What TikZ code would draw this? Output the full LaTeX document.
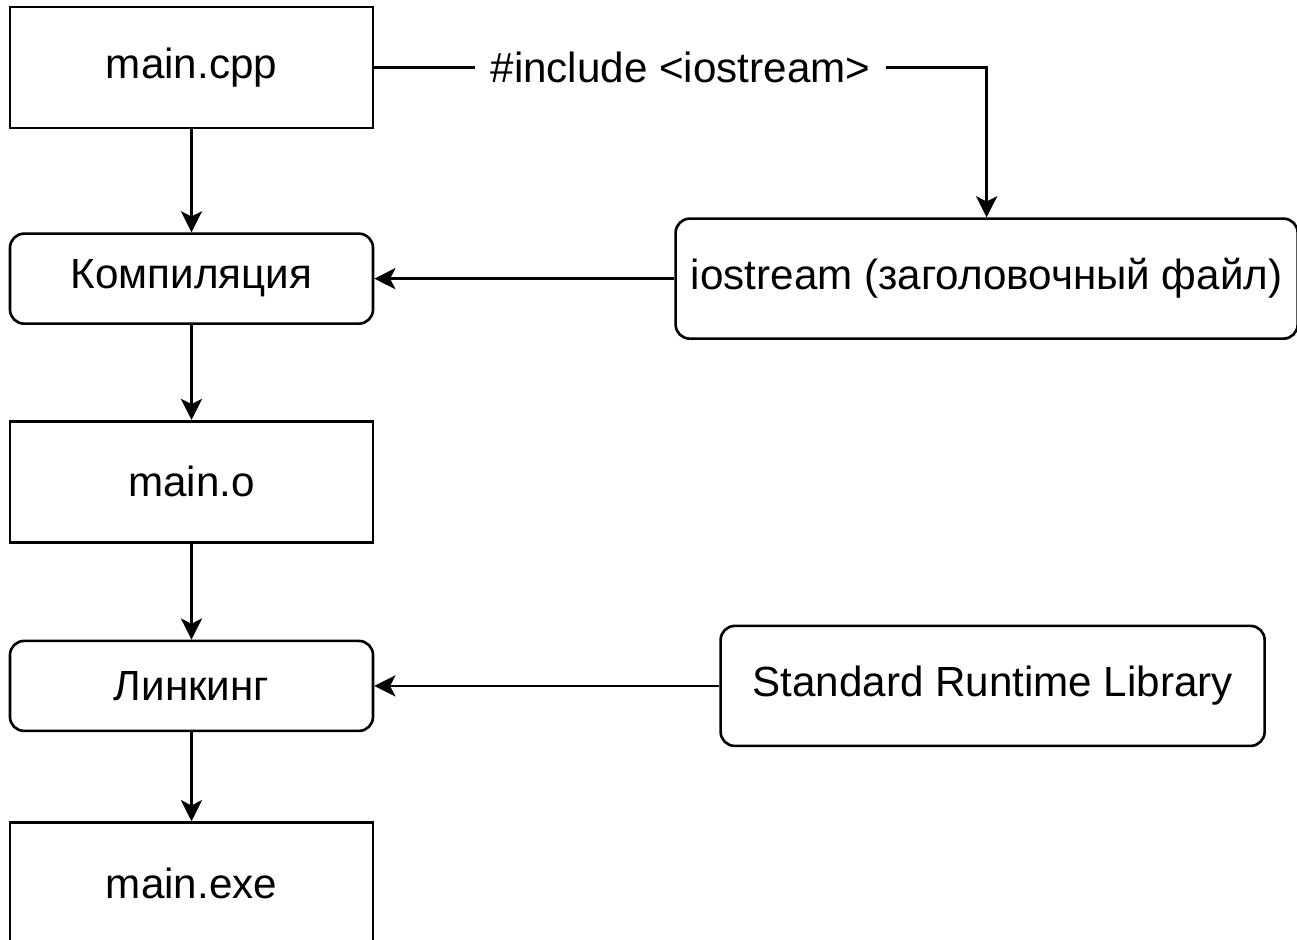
\documentclass[tikz,border=0pt]{standalone}
\usepackage{fontspec}
\setmainfont{Liberation Sans}
\usetikzlibrary{arrows.meta,positioning}

\begin{document}
\begin{tikzpicture}[
  box/.style={draw,line width=1.5pt,align=center,font=\fontsize{24}{28}\selectfont,minimum width=7.26cm,minimum height=2.42cm,inner sep=0pt},
  rbox/.style={box,rounded corners=8pt,minimum height=1.8cm},
  lbox/.style={draw,line width=1.5pt,rounded corners=8pt,align=center,font=\fontsize{24}{28}\selectfont,minimum height=2.4cm,inner sep=0pt},
  arr/.style={-{Stealth[length=12pt,width=12pt,inset=3pt]},line width=1.5pt},
  lbl/.style={fill=white,font=\fontsize{24}{28}\selectfont,inner sep=9pt}
]
\useasboundingbox (0,0) rectangle (25.94,-18.78);
% left column
\node[box] (cpp) at (3.83,-1.35) {main.cpp};
\node[rbox,below=2.06cm of cpp] (comp) {Компиляция};
\node[box,below=1.9cm of comp] (obj) {main.o};
\node[rbox,below=1.92cm of obj] (link) {Линкинг};
\node[box,below=1.78cm of link] (exe) {main.exe};
% right column
\node[lbox,minimum width=12.44cm,right=6cm of comp] (iostream) {iostream (заголовочный файл)};
\node[lbox,minimum width=10.88cm,right=6.9cm of link] (srl) {Standard Runtime Library};
\draw[arr] (cpp) -- (comp);
\draw[arr] (comp) -- (obj);
\draw[arr] (obj) -- (link);
\draw[arr] (link) -- (exe);
\draw[arr] (cpp.east) -- node[lbl] {\#include <iostream>} (cpp.east -| iostream.north) -- (iostream.north);
\draw[arr] (iostream) -- (comp);
\draw[arr] (srl) -- (link);
\end{tikzpicture}
\end{document}
